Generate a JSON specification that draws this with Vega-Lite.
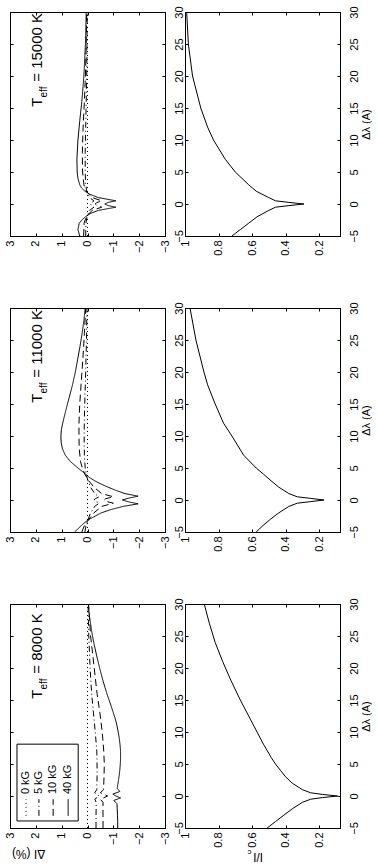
{
"$schema":"https://vega.github.io/schema/vega-lite/v6.json",
"background":"white",
"padding":{"left":3,"top":5,"right":0,"bottom":0},
"config":{"view":{"stroke":"black","strokeWidth":1},"font":"Liberation Sans",
"axis":{"domainColor":"black","tickColor":"black","labelColor":"black","titleColor":"black","labelFont":"Liberation Sans","titleFont":"Liberation Sans","labelFontSize":11,"titleFontSize":11,"titleFontWeight":"normal","grid":false,"labelFlush":false,"labelOverlap":false,"tickSize":-3},
"text":{"color":"black","font":"Liberation Sans"}},
"datasets":{
"dI":[
{"teff":8000,"B":"0 kG","lam":-5,"dI":0},{"teff":8000,"B":"0 kG","lam":30,"dI":0},
{"teff":8000,"B":"5 kG","lam":-5,"dI":-0.33},{"teff":8000,"B":"5 kG","lam":-3,"dI":-0.33},{"teff":8000,"B":"5 kG","lam":-1,"dI":-0.34},{"teff":8000,"B":"5 kG","lam":-0.5,"dI":-0.28},{"teff":8000,"B":"5 kG","lam":0,"dI":-0.45},{"teff":8000,"B":"5 kG","lam":0.5,"dI":-0.28},{"teff":8000,"B":"5 kG","lam":1,"dI":-0.36},{"teff":8000,"B":"5 kG","lam":3,"dI":-0.37},{"teff":8000,"B":"5 kG","lam":5,"dI":-0.37},{"teff":8000,"B":"5 kG","lam":7,"dI":-0.36},{"teff":8000,"B":"5 kG","lam":10,"dI":-0.3},{"teff":8000,"B":"5 kG","lam":13,"dI":-0.23},{"teff":8000,"B":"5 kG","lam":16,"dI":-0.16},{"teff":8000,"B":"5 kG","lam":20,"dI":-0.1},{"teff":8000,"B":"5 kG","lam":25,"dI":-0.05},{"teff":8000,"B":"5 kG","lam":30,"dI":-0.02},
{"teff":8000,"B":"10 kG","lam":-5,"dI":-0.6},{"teff":8000,"B":"10 kG","lam":-3,"dI":-0.6},{"teff":8000,"B":"10 kG","lam":-1,"dI":-0.6},{"teff":8000,"B":"10 kG","lam":-0.5,"dI":-0.5},{"teff":8000,"B":"10 kG","lam":0,"dI":-0.78},{"teff":8000,"B":"10 kG","lam":0.5,"dI":-0.5},{"teff":8000,"B":"10 kG","lam":1,"dI":-0.62},{"teff":8000,"B":"10 kG","lam":3,"dI":-0.64},{"teff":8000,"B":"10 kG","lam":5,"dI":-0.65},{"teff":8000,"B":"10 kG","lam":7,"dI":-0.63},{"teff":8000,"B":"10 kG","lam":10,"dI":-0.57},{"teff":8000,"B":"10 kG","lam":13,"dI":-0.48},{"teff":8000,"B":"10 kG","lam":16,"dI":-0.37},{"teff":8000,"B":"10 kG","lam":20,"dI":-0.26},{"teff":8000,"B":"10 kG","lam":25,"dI":-0.12},{"teff":8000,"B":"10 kG","lam":30,"dI":-0.04},
{"teff":8000,"B":"40 kG","lam":-5,"dI":-1.17},{"teff":8000,"B":"40 kG","lam":-4,"dI":-1.17},{"teff":8000,"B":"40 kG","lam":-3,"dI":-1.16},{"teff":8000,"B":"40 kG","lam":-2,"dI":-1.15},{"teff":8000,"B":"40 kG","lam":-1.2,"dI":-1.14},{"teff":8000,"B":"40 kG","lam":-0.7,"dI":-1.02},{"teff":8000,"B":"40 kG","lam":-0.3,"dI":-1.28},{"teff":8000,"B":"40 kG","lam":0,"dI":-1.1},{"teff":8000,"B":"40 kG","lam":0.3,"dI":-0.98},{"teff":8000,"B":"40 kG","lam":0.7,"dI":-1.25},{"teff":8000,"B":"40 kG","lam":1.2,"dI":-1.15},{"teff":8000,"B":"40 kG","lam":2,"dI":-1.18},{"teff":8000,"B":"40 kG","lam":3,"dI":-1.22},{"teff":8000,"B":"40 kG","lam":4,"dI":-1.25},{"teff":8000,"B":"40 kG","lam":5,"dI":-1.27},{"teff":8000,"B":"40 kG","lam":6,"dI":-1.28},{"teff":8000,"B":"40 kG","lam":7,"dI":-1.28},{"teff":8000,"B":"40 kG","lam":8,"dI":-1.26},{"teff":8000,"B":"40 kG","lam":9,"dI":-1.23},{"teff":8000,"B":"40 kG","lam":10,"dI":-1.19},{"teff":8000,"B":"40 kG","lam":11,"dI":-1.14},{"teff":8000,"B":"40 kG","lam":12,"dI":-1.08},{"teff":8000,"B":"40 kG","lam":14,"dI":-0.92},{"teff":8000,"B":"40 kG","lam":16,"dI":-0.75},{"teff":8000,"B":"40 kG","lam":18,"dI":-0.6},{"teff":8000,"B":"40 kG","lam":20,"dI":-0.47},{"teff":8000,"B":"40 kG","lam":22,"dI":-0.35},{"teff":8000,"B":"40 kG","lam":24,"dI":-0.24},{"teff":8000,"B":"40 kG","lam":26,"dI":-0.15},{"teff":8000,"B":"40 kG","lam":28,"dI":-0.08},{"teff":8000,"B":"40 kG","lam":30,"dI":-0.03},
{"teff":11000,"B":"0 kG","lam":-5,"dI":0},{"teff":11000,"B":"0 kG","lam":30,"dI":0},
{"teff":11000,"B":"5 kG","lam":-5,"dI":0.1},{"teff":11000,"B":"5 kG","lam":-4,"dI":0.06},{"teff":11000,"B":"5 kG","lam":-3.3,"dI":0},{"teff":11000,"B":"5 kG","lam":-2,"dI":-0.12},{"teff":11000,"B":"5 kG","lam":-1,"dI":-0.28},{"teff":11000,"B":"5 kG","lam":-0.5,"dI":-0.45},{"teff":11000,"B":"5 kG","lam":-0.2,"dI":-0.3},{"teff":11000,"B":"5 kG","lam":0,"dI":-0.25},{"teff":11000,"B":"5 kG","lam":0.2,"dI":-0.3},{"teff":11000,"B":"5 kG","lam":0.5,"dI":-0.45},{"teff":11000,"B":"5 kG","lam":1,"dI":-0.28},{"teff":11000,"B":"5 kG","lam":2,"dI":-0.12},{"teff":11000,"B":"5 kG","lam":3,"dI":-0.02},{"teff":11000,"B":"5 kG","lam":4,"dI":0.05},{"teff":11000,"B":"5 kG","lam":5,"dI":0.09},{"teff":11000,"B":"5 kG","lam":7,"dI":0.12},{"teff":11000,"B":"5 kG","lam":10,"dI":0.13},{"teff":11000,"B":"5 kG","lam":13,"dI":0.12},{"teff":11000,"B":"5 kG","lam":16,"dI":0.1},{"teff":11000,"B":"5 kG","lam":20,"dI":0.07},{"teff":11000,"B":"5 kG","lam":25,"dI":0.04},{"teff":11000,"B":"5 kG","lam":30,"dI":0.02},
{"teff":11000,"B":"10 kG","lam":-5,"dI":0.22},{"teff":11000,"B":"10 kG","lam":-4,"dI":0.12},{"teff":11000,"B":"10 kG","lam":-3.3,"dI":0},{"teff":11000,"B":"10 kG","lam":-2,"dI":-0.25},{"teff":11000,"B":"10 kG","lam":-1,"dI":-0.55},{"teff":11000,"B":"10 kG","lam":-0.5,"dI":-1.0},{"teff":11000,"B":"10 kG","lam":-0.2,"dI":-0.7},{"teff":11000,"B":"10 kG","lam":0,"dI":-0.65},{"teff":11000,"B":"10 kG","lam":0.2,"dI":-0.7},{"teff":11000,"B":"10 kG","lam":0.5,"dI":-1.0},{"teff":11000,"B":"10 kG","lam":1,"dI":-0.55},{"teff":11000,"B":"10 kG","lam":2,"dI":-0.25},{"teff":11000,"B":"10 kG","lam":3,"dI":-0.05},{"teff":11000,"B":"10 kG","lam":4,"dI":0.1},{"teff":11000,"B":"10 kG","lam":5,"dI":0.2},{"teff":11000,"B":"10 kG","lam":6,"dI":0.27},{"teff":11000,"B":"10 kG","lam":8,"dI":0.32},{"teff":11000,"B":"10 kG","lam":10,"dI":0.33},{"teff":11000,"B":"10 kG","lam":12,"dI":0.33},{"teff":11000,"B":"10 kG","lam":15,"dI":0.3},{"teff":11000,"B":"10 kG","lam":18,"dI":0.25},{"teff":11000,"B":"10 kG","lam":22,"dI":0.18},{"teff":11000,"B":"10 kG","lam":26,"dI":0.12},{"teff":11000,"B":"10 kG","lam":30,"dI":0.07},
{"teff":11000,"B":"40 kG","lam":-5,"dI":0.5},{"teff":11000,"B":"40 kG","lam":-4.5,"dI":0.37},{"teff":11000,"B":"40 kG","lam":-4,"dI":0.24},{"teff":11000,"B":"40 kG","lam":-3.5,"dI":0.1},{"teff":11000,"B":"40 kG","lam":-3,"dI":-0.08},{"teff":11000,"B":"40 kG","lam":-2.5,"dI":-0.3},{"teff":11000,"B":"40 kG","lam":-2,"dI":-0.54},{"teff":11000,"B":"40 kG","lam":-1.5,"dI":-0.9},{"teff":11000,"B":"40 kG","lam":-1,"dI":-1.38},{"teff":11000,"B":"40 kG","lam":-0.6,"dI":-1.96},{"teff":11000,"B":"40 kG","lam":-0.3,"dI":-1.6},{"teff":11000,"B":"40 kG","lam":0,"dI":-1.35},{"teff":11000,"B":"40 kG","lam":0.3,"dI":-1.6},{"teff":11000,"B":"40 kG","lam":0.6,"dI":-1.96},{"teff":11000,"B":"40 kG","lam":1,"dI":-1.45},{"teff":11000,"B":"40 kG","lam":1.5,"dI":-1.1},{"teff":11000,"B":"40 kG","lam":2,"dI":-0.8},{"teff":11000,"B":"40 kG","lam":2.5,"dI":-0.52},{"teff":11000,"B":"40 kG","lam":3,"dI":-0.28},{"teff":11000,"B":"40 kG","lam":3.5,"dI":-0.08},{"teff":11000,"B":"40 kG","lam":4,"dI":0.06},{"teff":11000,"B":"40 kG","lam":5,"dI":0.37},{"teff":11000,"B":"40 kG","lam":6,"dI":0.66},{"teff":11000,"B":"40 kG","lam":7,"dI":0.86},{"teff":11000,"B":"40 kG","lam":8,"dI":0.97},{"teff":11000,"B":"40 kG","lam":9,"dI":1.02},{"teff":11000,"B":"40 kG","lam":10,"dI":1.03},{"teff":11000,"B":"40 kG","lam":11,"dI":1.01},{"teff":11000,"B":"40 kG","lam":12,"dI":0.96},{"teff":11000,"B":"40 kG","lam":14,"dI":0.84},{"teff":11000,"B":"40 kG","lam":16,"dI":0.71},{"teff":11000,"B":"40 kG","lam":18,"dI":0.58},{"teff":11000,"B":"40 kG","lam":20,"dI":0.47},{"teff":11000,"B":"40 kG","lam":22,"dI":0.38},{"teff":11000,"B":"40 kG","lam":24,"dI":0.29},{"teff":11000,"B":"40 kG","lam":26,"dI":0.21},{"teff":11000,"B":"40 kG","lam":28,"dI":0.14},{"teff":11000,"B":"40 kG","lam":30,"dI":0.09},
{"teff":15000,"B":"0 kG","lam":-5,"dI":0},{"teff":15000,"B":"0 kG","lam":30,"dI":0},
{"teff":15000,"B":"5 kG","lam":-5,"dI":0.07},{"teff":15000,"B":"5 kG","lam":-3,"dI":0.06},{"teff":15000,"B":"5 kG","lam":-2,"dI":0.02},{"teff":15000,"B":"5 kG","lam":-1,"dI":-0.08},{"teff":15000,"B":"5 kG","lam":-0.5,"dI":-0.25},{"teff":15000,"B":"5 kG","lam":-0.2,"dI":-0.15},{"teff":15000,"B":"5 kG","lam":0,"dI":-0.12},{"teff":15000,"B":"5 kG","lam":0.2,"dI":-0.15},{"teff":15000,"B":"5 kG","lam":0.5,"dI":-0.25},{"teff":15000,"B":"5 kG","lam":1,"dI":-0.08},{"teff":15000,"B":"5 kG","lam":2,"dI":0.03},{"teff":15000,"B":"5 kG","lam":3,"dI":0.07},{"teff":15000,"B":"5 kG","lam":5,"dI":0.09},{"teff":15000,"B":"5 kG","lam":8,"dI":0.09},{"teff":15000,"B":"5 kG","lam":12,"dI":0.07},{"teff":15000,"B":"5 kG","lam":16,"dI":0.05},{"teff":15000,"B":"5 kG","lam":20,"dI":0.03},{"teff":15000,"B":"5 kG","lam":25,"dI":0.02},{"teff":15000,"B":"5 kG","lam":30,"dI":0.01},
{"teff":15000,"B":"10 kG","lam":-5,"dI":0.15},{"teff":15000,"B":"10 kG","lam":-3,"dI":0.13},{"teff":15000,"B":"10 kG","lam":-2,"dI":0.05},{"teff":15000,"B":"10 kG","lam":-1,"dI":-0.18},{"teff":15000,"B":"10 kG","lam":-0.5,"dI":-0.55},{"teff":15000,"B":"10 kG","lam":-0.2,"dI":-0.35},{"teff":15000,"B":"10 kG","lam":0,"dI":-0.3},{"teff":15000,"B":"10 kG","lam":0.2,"dI":-0.35},{"teff":15000,"B":"10 kG","lam":0.5,"dI":-0.55},{"teff":15000,"B":"10 kG","lam":1,"dI":-0.18},{"teff":15000,"B":"10 kG","lam":2,"dI":0.05},{"teff":15000,"B":"10 kG","lam":3,"dI":0.14},{"teff":15000,"B":"10 kG","lam":5,"dI":0.19},{"teff":15000,"B":"10 kG","lam":8,"dI":0.2},{"teff":15000,"B":"10 kG","lam":12,"dI":0.17},{"teff":15000,"B":"10 kG","lam":16,"dI":0.12},{"teff":15000,"B":"10 kG","lam":20,"dI":0.08},{"teff":15000,"B":"10 kG","lam":25,"dI":0.05},{"teff":15000,"B":"10 kG","lam":30,"dI":0.03},
{"teff":15000,"B":"40 kG","lam":-5,"dI":0.3},{"teff":15000,"B":"40 kG","lam":-4,"dI":0.37},{"teff":15000,"B":"40 kG","lam":-3,"dI":0.32},{"teff":15000,"B":"40 kG","lam":-2.5,"dI":0.22},{"teff":15000,"B":"40 kG","lam":-2,"dI":0.08},{"teff":15000,"B":"40 kG","lam":-1.5,"dI":-0.1},{"teff":15000,"B":"40 kG","lam":-1,"dI":-0.42},{"teff":15000,"B":"40 kG","lam":-0.5,"dI":-1.1},{"teff":15000,"B":"40 kG","lam":-0.25,"dI":-0.8},{"teff":15000,"B":"40 kG","lam":0,"dI":-0.67},{"teff":15000,"B":"40 kG","lam":0.25,"dI":-0.8},{"teff":15000,"B":"40 kG","lam":0.5,"dI":-1.1},{"teff":15000,"B":"40 kG","lam":1,"dI":-0.42},{"teff":15000,"B":"40 kG","lam":1.5,"dI":-0.1},{"teff":15000,"B":"40 kG","lam":2,"dI":0.1},{"teff":15000,"B":"40 kG","lam":2.5,"dI":0.23},{"teff":15000,"B":"40 kG","lam":3,"dI":0.3},{"teff":15000,"B":"40 kG","lam":4,"dI":0.37},{"teff":15000,"B":"40 kG","lam":5,"dI":0.4},{"teff":15000,"B":"40 kG","lam":7,"dI":0.41},{"teff":15000,"B":"40 kG","lam":10,"dI":0.37},{"teff":15000,"B":"40 kG","lam":13,"dI":0.3},{"teff":15000,"B":"40 kG","lam":16,"dI":0.22},{"teff":15000,"B":"40 kG","lam":20,"dI":0.14},{"teff":15000,"B":"40 kG","lam":25,"dI":0.08},{"teff":15000,"B":"40 kG","lam":30,"dI":0.05}
],
"prof":[
{"teff":8000,"lam":-5,"I":0.51},{"teff":8000,"lam":-4,"I":0.46},{"teff":8000,"lam":-3,"I":0.41},{"teff":8000,"lam":-2,"I":0.36},{"teff":8000,"lam":-1,"I":0.3},{"teff":8000,"lam":-0.5,"I":0.25},{"teff":8000,"lam":-0.25,"I":0.18},{"teff":8000,"lam":0,"I":0.09},{"teff":8000,"lam":0.25,"I":0.18},{"teff":8000,"lam":0.5,"I":0.25},{"teff":8000,"lam":1,"I":0.3},{"teff":8000,"lam":2,"I":0.36},{"teff":8000,"lam":3,"I":0.4},{"teff":8000,"lam":4,"I":0.43},{"teff":8000,"lam":5,"I":0.46},{"teff":8000,"lam":6,"I":0.485},{"teff":8000,"lam":8,"I":0.53},{"teff":8000,"lam":10,"I":0.57},{"teff":8000,"lam":12,"I":0.61},{"teff":8000,"lam":15,"I":0.67},{"teff":8000,"lam":18,"I":0.725},{"teff":8000,"lam":21,"I":0.775},{"teff":8000,"lam":24,"I":0.82},{"teff":8000,"lam":27,"I":0.855},{"teff":8000,"lam":30,"I":0.885},
{"teff":11000,"lam":-5,"I":0.575},{"teff":11000,"lam":-4,"I":0.535},{"teff":11000,"lam":-3,"I":0.49},{"teff":11000,"lam":-2,"I":0.44},{"teff":11000,"lam":-1,"I":0.38},{"teff":11000,"lam":-0.5,"I":0.33},{"teff":11000,"lam":-0.25,"I":0.25},{"teff":11000,"lam":0,"I":0.17},{"teff":11000,"lam":0.25,"I":0.25},{"teff":11000,"lam":0.5,"I":0.33},{"teff":11000,"lam":1,"I":0.38},{"teff":11000,"lam":2,"I":0.44},{"teff":11000,"lam":3,"I":0.486},{"teff":11000,"lam":4,"I":0.53},{"teff":11000,"lam":5,"I":0.575},{"teff":11000,"lam":7,"I":0.65},{"teff":11000,"lam":10,"I":0.72},{"teff":11000,"lam":12,"I":0.77},{"teff":11000,"lam":15,"I":0.82},{"teff":11000,"lam":18,"I":0.865},{"teff":11000,"lam":20,"I":0.887},{"teff":11000,"lam":25,"I":0.935},{"teff":11000,"lam":30,"I":0.97},
{"teff":15000,"lam":-5,"I":0.72},{"teff":15000,"lam":-4,"I":0.67},{"teff":15000,"lam":-3,"I":0.62},{"teff":15000,"lam":-2,"I":0.57},{"teff":15000,"lam":-1,"I":0.5},{"teff":15000,"lam":-0.5,"I":0.46},{"teff":15000,"lam":-0.25,"I":0.38},{"teff":15000,"lam":0,"I":0.29},{"teff":15000,"lam":0.25,"I":0.38},{"teff":15000,"lam":0.5,"I":0.46},{"teff":15000,"lam":1,"I":0.5},{"teff":15000,"lam":2,"I":0.575},{"teff":15000,"lam":3,"I":0.62},{"teff":15000,"lam":4,"I":0.66},{"teff":15000,"lam":5,"I":0.7},{"teff":15000,"lam":7,"I":0.76},{"teff":15000,"lam":10,"I":0.83},{"teff":15000,"lam":12,"I":0.865},{"teff":15000,"lam":15,"I":0.906},{"teff":15000,"lam":20,"I":0.955},{"teff":15000,"lam":25,"I":0.98},{"teff":15000,"lam":30,"I":0.99}
]},
"columns":2,
"spacing":{"row":72,"column":20},
"bounds":"flush",
"concat":[
{"width":155,"height":224,
 "layer":[
  {"data":{"name":"dI"},"transform":[{"filter":"datum.teff==15000"}],"mark":{"type":"line","color":"black","strokeWidth":1},
   "encoding":{
    "x":{"field":"dI","type":"quantitative","scale":{"domain":[-3,3],"reverse":true,"nice":false,"zero":false},"axis":{"orient":"bottom","values":[-3,-2,-1,0,1,2,3],"title":null,"labelAngle":270,"labelAlign":"right","labelBaseline":"middle","labelPadding":7}},
    "y":{"field":"lam","type":"quantitative","scale":{"domain":[-5,30],"nice":false,"zero":false},"axis":{"orient":"right","values":[-5,0,5,10,15,20,25,30],"title":null,"labelAngle":270,"labelAlign":"center","labelBaseline":"top","labelPadding":11}},
    "strokeDash":{"field":"B","type":"nominal","scale":{"domain":["0 kG","5 kG","10 kG","40 kG"],"range":[[1,3],[6,3,1,3],[7,4],[1,0]]},"legend":null},
    "order":{"field":"lam","type":"quantitative"}}},
  {"data":{"values":[{}]},"mark":{"type":"point","opacity":0},"encoding":{"x":{"datum":0,"type":"quantitative","axis":{"orient":"top","labels":false,"values":[-3,-2,-1,0,1,2,3],"title":null}},"y":{"datum":10,"type":"quantitative","axis":{"orient":"left","labels":false,"values":[-5,0,5,10,15,20,25,30],"title":null}}}},
  {"data":{"values":[{}]},"mark":{"type":"text","text":"T","angle":270,"align":"left","baseline":"alphabetic","fontSize":15},"encoding":{"x":{"datum":1.75,"type":"quantitative","axis":null},"y":{"datum":15.2,"type":"quantitative","axis":null}}},
  {"data":{"values":[{}]},"mark":{"type":"text","text":"eff","angle":270,"align":"left","baseline":"alphabetic","fontSize":10},"encoding":{"x":{"datum":1.57,"type":"quantitative","axis":null},"y":{"datum":16.65,"type":"quantitative","axis":null}}},
  {"data":{"values":[{}]},"mark":{"type":"text","text":"= 15000 K","angle":270,"align":"left","baseline":"alphabetic","fontSize":15},"encoding":{"x":{"datum":1.75,"type":"quantitative","axis":null},"y":{"datum":19.1,"type":"quantitative","axis":null}}}
 ],
 "resolve":{"axis":{"x":"independent","y":"independent"}}},
{"width":155,"height":224,
 "layer":[
  {"data":{"name":"prof"},"transform":[{"filter":"datum.teff==15000"}],"mark":{"type":"line","color":"black","strokeWidth":1},
   "encoding":{
    "x":{"field":"I","type":"quantitative","scale":{"domain":[0.075,1],"reverse":true,"nice":false,"zero":false},"axis":{"orient":"bottom","values":[0.2,0.4,0.6,0.8,1],"format":"~g","title":null,"labelAngle":270,"labelAlign":"right","labelBaseline":"middle","labelPadding":7}},
    "y":{"field":"lam","type":"quantitative","scale":{"domain":[-5,30],"nice":false,"zero":false},"axis":{"orient":"right","values":[-5,0,5,10,15,20,25,30],"title":"Δλ (A)","titleAngle":270,"titleBaseline":"top","titlePadding":1,"labelAngle":270,"labelAlign":"center","labelBaseline":"top","labelPadding":11}},
    "order":{"field":"lam","type":"quantitative"}}},
  {"data":{"values":[{}]},"mark":{"type":"point","opacity":0},"encoding":{"x":{"datum":0.5,"type":"quantitative","axis":{"orient":"top","labels":false,"values":[0.2,0.4,0.6,0.8,1],"title":null}},"y":{"datum":10,"type":"quantitative","axis":{"orient":"left","labels":false,"values":[-5,0,5,10,15,20,25,30],"title":null}}}}
 ],
 "resolve":{"axis":{"x":"independent","y":"independent"}}},
{"width":155,"height":224,
 "layer":[
  {"data":{"name":"dI"},"transform":[{"filter":"datum.teff==11000"}],"mark":{"type":"line","color":"black","strokeWidth":1},
   "encoding":{
    "x":{"field":"dI","type":"quantitative","scale":{"domain":[-3,3],"reverse":true,"nice":false,"zero":false},"axis":{"orient":"bottom","values":[-3,-2,-1,0,1,2,3],"title":null,"labelAngle":270,"labelAlign":"right","labelBaseline":"middle","labelPadding":7}},
    "y":{"field":"lam","type":"quantitative","scale":{"domain":[-5,30],"nice":false,"zero":false},"axis":{"orient":"right","values":[-5,0,5,10,15,20,25,30],"title":null,"labelAngle":270,"labelAlign":"center","labelBaseline":"top","labelPadding":11}},
    "strokeDash":{"field":"B","type":"nominal","scale":{"domain":["0 kG","5 kG","10 kG","40 kG"],"range":[[1,3],[6,3,1,3],[7,4],[1,0]]},"legend":null},
    "order":{"field":"lam","type":"quantitative"}}},
  {"data":{"values":[{}]},"mark":{"type":"point","opacity":0},"encoding":{"x":{"datum":0,"type":"quantitative","axis":{"orient":"top","labels":false,"values":[-3,-2,-1,0,1,2,3],"title":null}},"y":{"datum":10,"type":"quantitative","axis":{"orient":"left","labels":false,"values":[-5,0,5,10,15,20,25,30],"title":null}}}},
  {"data":{"values":[{}]},"mark":{"type":"text","text":"T","angle":270,"align":"left","baseline":"alphabetic","fontSize":15},"encoding":{"x":{"datum":1.75,"type":"quantitative","axis":null},"y":{"datum":15.2,"type":"quantitative","axis":null}}},
  {"data":{"values":[{}]},"mark":{"type":"text","text":"eff","angle":270,"align":"left","baseline":"alphabetic","fontSize":10},"encoding":{"x":{"datum":1.57,"type":"quantitative","axis":null},"y":{"datum":16.65,"type":"quantitative","axis":null}}},
  {"data":{"values":[{}]},"mark":{"type":"text","text":"= 11000 K","angle":270,"align":"left","baseline":"alphabetic","fontSize":15},"encoding":{"x":{"datum":1.75,"type":"quantitative","axis":null},"y":{"datum":19.1,"type":"quantitative","axis":null}}}
 ],
 "resolve":{"axis":{"x":"independent","y":"independent"}}},
{"width":155,"height":224,
 "layer":[
  {"data":{"name":"prof"},"transform":[{"filter":"datum.teff==11000"}],"mark":{"type":"line","color":"black","strokeWidth":1},
   "encoding":{
    "x":{"field":"I","type":"quantitative","scale":{"domain":[0.075,1],"reverse":true,"nice":false,"zero":false},"axis":{"orient":"bottom","values":[0.2,0.4,0.6,0.8,1],"format":"~g","title":null,"labelAngle":270,"labelAlign":"right","labelBaseline":"middle","labelPadding":7}},
    "y":{"field":"lam","type":"quantitative","scale":{"domain":[-5,30],"nice":false,"zero":false},"axis":{"orient":"right","values":[-5,0,5,10,15,20,25,30],"title":"Δλ (A)","titleAngle":270,"titleBaseline":"top","titlePadding":1,"labelAngle":270,"labelAlign":"center","labelBaseline":"top","labelPadding":11}},
    "order":{"field":"lam","type":"quantitative"}}},
  {"data":{"values":[{}]},"mark":{"type":"point","opacity":0},"encoding":{"x":{"datum":0.5,"type":"quantitative","axis":{"orient":"top","labels":false,"values":[0.2,0.4,0.6,0.8,1],"title":null}},"y":{"datum":10,"type":"quantitative","axis":{"orient":"left","labels":false,"values":[-5,0,5,10,15,20,25,30],"title":null}}}}
 ],
 "resolve":{"axis":{"x":"independent","y":"independent"}}},
{"width":155,"height":224,
 "layer":[
  {"data":{"name":"dI"},"transform":[{"filter":"datum.teff==8000"}],"mark":{"type":"line","color":"black","strokeWidth":1},
   "encoding":{
    "x":{"field":"dI","type":"quantitative","scale":{"domain":[-3,3],"reverse":true,"nice":false,"zero":false},"axis":{"orient":"bottom","values":[-3,-2,-1,0,1,2,3],"title":null,"labelAngle":270,"labelAlign":"right","labelBaseline":"middle","labelPadding":7}},
    "y":{"field":"lam","type":"quantitative","scale":{"domain":[-5,30],"nice":false,"zero":false},"axis":{"orient":"right","values":[-5,0,5,10,15,20,25,30],"title":null,"labelAngle":270,"labelAlign":"center","labelBaseline":"top","labelPadding":11}},
    "strokeDash":{"field":"B","type":"nominal","scale":{"domain":["0 kG","5 kG","10 kG","40 kG"],"range":[[1,3],[6,3,1,3],[7,4],[1,0]]},"legend":null},
    "order":{"field":"lam","type":"quantitative"}}},
  {"data":{"values":[{}]},"mark":{"type":"point","opacity":0},"encoding":{"x":{"datum":0,"type":"quantitative","axis":{"orient":"top","labels":false,"values":[-3,-2,-1,0,1,2,3],"title":null}},"y":{"datum":10,"type":"quantitative","axis":{"orient":"left","labels":false,"values":[-5,0,5,10,15,20,25,30],"title":null}}}},
  {"data":{"values":[{}]},"mark":{"type":"text","text":"T","angle":270,"align":"left","baseline":"alphabetic","fontSize":15},"encoding":{"x":{"datum":1.75,"type":"quantitative","axis":null},"y":{"datum":15.2,"type":"quantitative","axis":null}}},
  {"data":{"values":[{}]},"mark":{"type":"text","text":"eff","angle":270,"align":"left","baseline":"alphabetic","fontSize":10},"encoding":{"x":{"datum":1.57,"type":"quantitative","axis":null},"y":{"datum":16.65,"type":"quantitative","axis":null}}},
  {"data":{"values":[{}]},"mark":{"type":"text","text":"= 8000 K","angle":270,"align":"left","baseline":"alphabetic","fontSize":15},"encoding":{"x":{"datum":1.75,"type":"quantitative","axis":null},"y":{"datum":19.1,"type":"quantitative","axis":null}}},
  {"data":{"values":[{}]},"mark":{"type":"rect","fill":"white","stroke":"black","strokeWidth":1},"encoding":{"x":{"datum":2.73,"type":"quantitative","axis":null},"x2":{"datum":0.36},"y":{"datum":-3.9,"type":"quantitative","axis":null},"y2":{"datum":8.1}}},
  {"data":{"values":[{"B":"0 kG","pos":2.38},{"B":"5 kG","pos":1.88},{"B":"10 kG","pos":1.33},{"B":"40 kG","pos":0.75}]},"mark":{"type":"rule","color":"black","strokeWidth":1},"encoding":{"x":{"field":"pos","type":"quantitative","axis":null},"y":{"datum":-3.1,"type":"quantitative","axis":null},"y2":{"datum":-0.5},"strokeDash":{"field":"B","type":"nominal","scale":{"domain":["0 kG","5 kG","10 kG","40 kG"],"range":[[1,3],[6,3,1,3],[7,4],[1,0]]},"legend":null}}},
  {"data":{"values":[{"B":"0 kG","pos":2.38},{"B":"5 kG","pos":1.88},{"B":"10 kG","pos":1.33},{"B":"40 kG","pos":0.75}]},"mark":{"type":"text","angle":270,"align":"left","baseline":"middle","fontSize":11},"encoding":{"x":{"field":"pos","type":"quantitative","axis":null},"y":{"datum":0.3,"type":"quantitative","axis":null},"text":{"field":"B"}}},
  {"data":{"values":[{}]},"mark":{"type":"text","text":"ΔI (%)","angle":180,"align":"center","baseline":"middle","fontSize":12},"encoding":{"x":{"datum":2.28,"type":"quantitative","axis":null},"y":{"datum":-9.0,"type":"quantitative","axis":null}}}
 ],
 "resolve":{"axis":{"x":"independent","y":"independent"}}},
{"width":155,"height":224,
 "layer":[
  {"data":{"name":"prof"},"transform":[{"filter":"datum.teff==8000"}],"mark":{"type":"line","color":"black","strokeWidth":1},
   "encoding":{
    "x":{"field":"I","type":"quantitative","scale":{"domain":[0.075,1],"reverse":true,"nice":false,"zero":false},"axis":{"orient":"bottom","values":[0.2,0.4,0.6,0.8,1],"format":"~g","title":null,"labelAngle":270,"labelAlign":"right","labelBaseline":"middle","labelPadding":7}},
    "y":{"field":"lam","type":"quantitative","scale":{"domain":[-5,30],"nice":false,"zero":false},"axis":{"orient":"right","values":[-5,0,5,10,15,20,25,30],"title":"Δλ (A)","titleAngle":270,"titleBaseline":"top","titlePadding":1,"labelAngle":270,"labelAlign":"center","labelBaseline":"top","labelPadding":11}},
    "order":{"field":"lam","type":"quantitative"}}},
  {"data":{"values":[{}]},"mark":{"type":"point","opacity":0},"encoding":{"x":{"datum":0.5,"type":"quantitative","axis":{"orient":"top","labels":false,"values":[0.2,0.4,0.6,0.8,1],"title":null}},"y":{"datum":10,"type":"quantitative","axis":{"orient":"left","labels":false,"values":[-5,0,5,10,15,20,25,30],"title":null}}}},
  {"data":{"values":[{}]},"mark":{"type":"text","text":"I/I","angle":180,"align":"center","baseline":"middle","fontSize":12},"encoding":{"x":{"datum":0.564,"type":"quantitative","axis":null},"y":{"datum":-9.5,"type":"quantitative","axis":null}}},
  {"data":{"values":[{}]},"mark":{"type":"text","text":"c","angle":180,"align":"center","baseline":"middle","fontSize":8},"encoding":{"x":{"datum":0.615,"type":"quantitative","axis":null},"y":{"datum":-8.8,"type":"quantitative","axis":null}}}
 ],
 "resolve":{"axis":{"x":"independent","y":"independent"}}}
]
}
